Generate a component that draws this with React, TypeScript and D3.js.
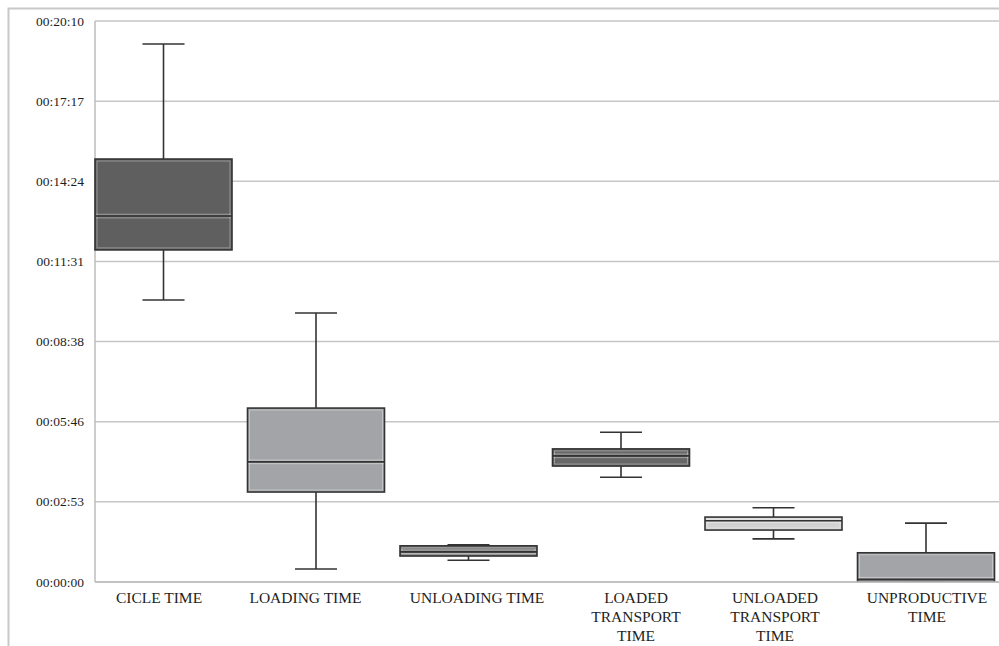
import React from "react";
import * as d3 from "d3";

const categories: string[][] = [
  ["CICLE TIME"],
  ["LOADING TIME"],
  ["UNLOADING TIME"],
  ["LOADED", "TRANSPORT", "TIME"],
  ["UNLOADED", "TRANSPORT", "TIME"],
  ["UNPRODUCTIVE", "TIME"],
];
// values in seconds
const minValues = [608, 28, 47, 226, 93, 2];
const q1Values = [716, 194, 56, 250, 112, 2];
const medianValues = [789, 259, 65, 272, 132, 6];
const q3Values = [912, 375, 78, 287, 140, 63];
const maxValues = [1160, 580, 80, 323, 160, 127];
const fills = ["#5f5f60", "#a3a4a7", "#7a7a7c", "#676768", "#d2d2d3", "#a3a4a7"];
// ticks every 0.002 day = 172.8 s
const tickValues = [0, 172.8, 345.6, 518.4, 691.2, 864, 1036.8, 1209.6];

const fmt = (s: number) => {
  const t = Math.round(s);
  const h = Math.floor(t / 3600);
  const m = Math.floor((t % 3600) / 60);
  const sec = t % 60;
  const p = (n: number) => String(n).padStart(2, "0");
  return `${p(h)}:${p(m)}:${p(sec)}`;
};

export default function App() {
  const W = 999, H = 646;
  const left = 95, right = 999, top = 21, bottom = 582;
  const y = d3.scaleLinear().domain([0, 1209.6]).range([bottom, top]);
  const keys = categories.map((c) => c.join(" "));
  const x = d3.scalePoint<string>().domain(keys).range([163.5, 926]);
  const boxW = 137;
  const capW = 42;
  const font = "'Liberation Serif', 'Times New Roman', serif";
  // layout: horizontal nudge of category labels as placed in the original
  const labelNudge = [-4.5, -10.5, 8.5, 15, 1.5, 1];

  return (
    <svg width={W} height={H} style={{ position: "absolute", left: 0, top: 0, background: "#fff" }}>
      <rect x={0} y={0} width={W} height={H} fill="#fff" />
      {/* frame */}
      <path d={`M8.5,${H} L8.5,8.5 L${W},8.5`} fill="none" stroke="#c8c8c8" strokeWidth={2} />
      {/* gridlines */}
      {tickValues.map((t, i) => (
        <line key={"g" + i} x1={left} x2={right} y1={y(t)} y2={y(t)} stroke="#c6c6c6" strokeWidth={1.5} />
      ))}
      <line x1={left} x2={left} y1={top} y2={bottom} stroke="#bdbdbd" strokeWidth={1.5} />
      {tickValues.map((t, i) => (
        <text key={"t" + i} x={84} y={y(t) + 4.5} textAnchor="end" fontFamily={font} fontSize={13.5} fill="#1e1e1e">
          {fmt(t)}
        </text>
      ))}
      {/* boxes */}
      {keys.map((k, i) => {
        const cx = x(k)!;
        const x0 = cx - boxW / 2;
        const yq3 = y(q3Values[i]);
        const yq1 = y(q1Values[i]);
        const ymed = y(medianValues[i]);
        const ymax = y(maxValues[i]);
        const ymin = y(minValues[i]);
        const h = Math.max(yq1 - yq3, 1);
        return (
          <g key={"b" + i}>
            <line x1={cx} x2={cx} y1={ymax} y2={yq3} stroke="#333" strokeWidth={1.6} />
            <line x1={cx} x2={cx} y1={yq1} y2={ymin} stroke="#333" strokeWidth={1.6} />
            <line x1={cx - capW / 2} x2={cx + capW / 2} y1={ymax} y2={ymax} stroke="#333" strokeWidth={1.6} />
            <line x1={cx - capW / 2} x2={cx + capW / 2} y1={ymin} y2={ymin} stroke="#333" strokeWidth={1.6} />
            <rect x={x0} y={yq3} width={boxW} height={h} fill={fills[i]} stroke="#333" strokeWidth={1.6} />
            {h > 5 && (
              <rect x={x0 + 2} y={yq3 + 2} width={boxW - 4} height={h - 4} fill="none" stroke="#ffffff" strokeOpacity={0.35} strokeWidth={1} />
            )}
            <line x1={x0 + 1} x2={x0 + boxW - 1} y1={ymed - 1.8} y2={ymed - 1.8} stroke="#fff" strokeOpacity={0.4} strokeWidth={1} />
            <line x1={x0 + 1} x2={x0 + boxW - 1} y1={ymed + 1.8} y2={ymed + 1.8} stroke="#fff" strokeOpacity={0.4} strokeWidth={1} />
            <line x1={x0} x2={x0 + boxW} y1={ymed} y2={ymed} stroke="#333" strokeWidth={1.6} />
          </g>
        );
      })}
      <line x1={left} x2={right} y1={bottom} y2={bottom} stroke="#bdbdbd" strokeWidth={1.5} />
      {/* category labels */}
      {categories.map((lines, i) => (
        <text key={"c" + i} textAnchor="middle" fontFamily={font} fontSize={15.5} fill="#1e1e1e">
          {lines.map((l, j) => (
            <tspan key={j} x={x(keys[i])! + labelNudge[i]} y={603 + j * 19}>
              {l}
            </tspan>
          ))}
        </text>
      ))}
    </svg>
  );
}
